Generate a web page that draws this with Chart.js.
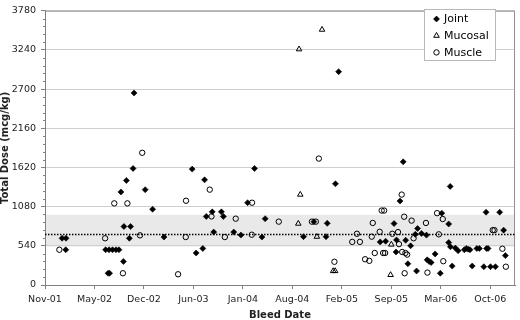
<!DOCTYPE html>
<html>
<head>
<meta charset="utf-8">
<script src="https://cdn.jsdelivr.net/npm/chart.js@4.4.1/dist/chart.umd.min.js"></script>
<style>
  html, body { margin: 0; padding: 0; background: #fff; }
  #wrap { width: 520px; height: 320px; }
</style>
</head>
<body>
<div id="wrap"><canvas id="chart" width="520" height="320"></canvas></div>
<script>
// bleed dates are Excel day serials, doses in mcg/kg
const jointDates = [37269, 37285, 37284, 37445, 37459, 37473, 37487, 37499, 37455, 37461, 37517, 37519, 37546, 37541, 37507, 37529, 37556, 37560, 37605, 37635, 37681, 37795, 37811, 37838, 37845, 37852, 37876, 37882, 37913, 37921, 37963, 37992, 38019, 38047, 38077, 38090, 38245, 38287, 38341, 38336, 38374, 38387, 38555, 38577, 38611, 38621, 38619, 38635, 38648, 38658, 38667, 38678, 38697, 38702, 38706, 38722, 38742, 38745, 38753, 38761, 38777, 38798, 38804, 38832, 38832, 38838, 38839, 38846, 38859, 38870, 38895, 38903, 38911, 38918, 38927, 38946, 38956, 38974, 38983, 38985, 38991, 39001, 39021, 39038, 39054, 39061];
const jointDoses = [644, 644, 486, 486, 486, 486, 486, 486, 162, 162, 324, 806, 806, 644, 1282, 1440, 1606, 2646, 1314, 1044, 661, 1597, 441, 504, 1449, 945, 1008, 729, 1008, 945, 729, 688, 1134, 1606, 661, 914, 666, 873, 850, 666, 1395, 2939, 594, 603, 846, 621, 455, 1157, 1697, 617, 293, 540, 698, 193, 779, 711, 688, 347, 324, 310, 428, 162, 990, 841, 585, 1359, 526, 261, 509, 472, 486, 504, 493, 486, 261, 504, 504, 252, 1003, 504, 504, 252, 252, 1003, 756, 405];

const mucosalDates = [38224, 38232, 38227, 38320, 38299, 38365, 38373, 38597, 38600];
const mucosalDoses = [846, 1246, 3249, 3519, 666, 193, 193, 139, 558];

const muscleDates = [37258, 37443, 37480, 37533, 37515, 37593, 37584, 37738, 37770, 37769, 37866, 37873, 37927, 37971, 38037, 38036, 38145, 38279, 38295, 38307, 38370, 38442, 38461, 38473, 38494, 38511, 38521, 38525, 38533, 38553, 38561, 38571, 38567, 38575, 38604, 38627, 38631, 38642, 38644, 38652, 38654, 38657, 38664, 38682, 38690, 38740, 38746, 38785, 38792, 38808, 38810, 39010, 39017, 39049, 39063];
const muscleDoses = [486, 644, 1125, 1125, 162, 1822, 684, 148, 1161, 661, 1314, 945, 661, 914, 1134, 693, 873, 873, 873, 1742, 320, 594, 706, 594, 355, 333, 666, 855, 441, 733, 1026, 1026, 441, 441, 706, 729, 563, 1246, 455, 941, 162, 441, 419, 887, 644, 855, 171, 990, 698, 909, 328, 756, 756, 500, 252];

const seriesNames = ['Joint', 'Mucosal', 'Muscle'];

// axis ranges
const dateMin = 37200, dateMax = 39100, dateStep = 200;
const doseMax = 3780, doseStep = 540, doseMinor = 108;

// reference band and mean line
const bandLow = 530, bandHigh = 968, meanDose = 700;

const MONTHS = ['Jan', 'Feb', 'Mar', 'Apr', 'May', 'Jun', 'Jul', 'Aug', 'Sep', 'Oct', 'Nov', 'Dec'];
function dateLabel(serial) {
  const d = new Date(Date.UTC(1899, 11, 30) + serial * 864e5);
  return MONTHS[d.getUTCMonth()] + '-' + String(d.getUTCFullYear()).slice(2);
}

const toPoints = (xs, ys) => xs.map((x, i) => ({ x, y: ys[i] }));

const FONT = 'DejaVu Sans';

const bandPlugin = {
  id: 'band',
  beforeDraw(chart) {
    const { ctx, chartArea: a, scales: { y } } = chart;
    ctx.save();
    ctx.fillStyle = '#e9e9e9';
    const top = y.getPixelForValue(bandHigh);
    const bot = y.getPixelForValue(bandLow);
    ctx.fillRect(a.left, top, a.right - a.left, bot - top);
    ctx.restore();
  },
  beforeDatasetsDraw(chart) {
    const { ctx, chartArea: a, scales: { y } } = chart;
    ctx.save();
    // plot frame top / right
    ctx.strokeStyle = '#909090';
    ctx.lineWidth = 1;
    ctx.beginPath();
    ctx.moveTo(a.left, a.top + 0.5);
    ctx.lineTo(a.right - 0.5, a.top + 0.5);
    ctx.lineTo(a.right - 0.5, a.bottom);
    ctx.stroke();
    // mean dose dotted line
    const my = Math.round(y.getPixelForValue(meanDose)) + 0.5;
    ctx.strokeStyle = '#000';
    ctx.lineWidth = 1.3;
    ctx.setLineDash([1.5, 1.5]);
    ctx.beginPath();
    ctx.moveTo(a.left, my);
    ctx.lineTo(a.right, my);
    ctx.stroke();
    ctx.setLineDash([]);
    // minor ticks on y axis
    ctx.strokeStyle = '#808080';
    ctx.lineWidth = 1;
    ctx.beginPath();
    for (let v = doseMinor; v < doseMax; v += doseMinor) {
      if (v % doseStep === 0) continue;
      const py = Math.round(y.getPixelForValue(v)) + 0.5;
      ctx.moveTo(a.left - 2, py);
      ctx.lineTo(a.left + 1, py);
    }
    ctx.stroke();
    ctx.restore();
  }
};

const legendPlugin = {
  id: 'boxLegend',
  afterDatasetsDraw(chart) {
    const { ctx } = chart;
    const bx = 424.5, by = 9.5, bw = 71, bh = 51;
    ctx.save();
    ctx.fillStyle = '#fff';
    ctx.strokeStyle = '#b8b8b8';
    ctx.lineWidth = 1;
    ctx.fillRect(bx, by, bw, bh);
    ctx.strokeRect(bx, by, bw, bh);
    ctx.font = '11px "' + FONT + '"';
    ctx.textBaseline = 'middle';
    chart.data.datasets.forEach((ds, i) => {
      const cy = 19 + i * 16.7;
      ctx.fillStyle = ds.backgroundColor;
      ctx.strokeStyle = ds.borderColor;
      ctx.lineWidth = ds.borderWidth;
      Chart.helpers.drawPoint(ctx, {
        pointStyle: ds.pointStyle, radius: ds.pointRadius, borderWidth: ds.borderWidth, rotation: 0
      }, 436.5, cy);
      ctx.fillStyle = '#000';
      ctx.fillText(ds.label, 444, cy + 0.5);
    });
    ctx.restore();
  }
};

new Chart(document.getElementById('chart'), {
  type: 'scatter',
  data: {
    datasets: [
      {
        label: seriesNames[0],
        data: toPoints(jointDates, jointDoses),
        pointStyle: 'rectRot',
        pointRadius: 3,
        backgroundColor: '#000',
        borderColor: '#000',
        borderWidth: 0.6,
      },
      {
        label: seriesNames[1],
        data: toPoints(mucosalDates, mucosalDoses),
        pointStyle: 'triangle',
        pointRadius: 3.2,
        backgroundColor: 'rgba(255,255,255,0)',
        borderColor: '#000',
        borderWidth: 1,
      },
      {
        label: seriesNames[2],
        data: toPoints(muscleDates, muscleDoses),
        pointStyle: 'circle',
        pointRadius: 2.7,
        backgroundColor: 'rgba(255,255,255,0)',
        borderColor: '#000',
        borderWidth: 1,
      },
    ],
  },
  options: {
    responsive: false,
    animation: false,
    layout: { padding: { left: 0, top: 5, right: 2, bottom: 0 } },
    plugins: {
      legend: { display: false },
      tooltip: { enabled: false },
    },
    scales: {
      x: {
        type: 'linear',
        min: dateMin,
        max: dateMax,
        afterFit: (s) => { s.height = 35; },
        afterBuildTicks: (s) => {
          const ticks = [];
          for (let v = dateMin; v <= dateMax; v += dateStep) ticks.push({ value: v });
          s.ticks = ticks;
        },
        ticks: {
          stepSize: dateStep,
          maxRotation: 0,
          autoSkip: false,
          padding: 5,
          color: '#222',
          font: { family: FONT, size: 9.5 },
          callback: (v) => dateLabel(v),
        },
        grid: { drawOnChartArea: false, tickLength: 4, tickColor: '#808080' },
        border: { color: '#808080' },
        title: {
          display: true,
          text: 'Bleed Date',
          color: '#222',
          font: { family: FONT, size: 10, weight: 'bold', lineHeight: 1 },
          padding: 0,
        },
      },
      y: {
        min: 0,
        max: doseMax,
        afterFit: (s) => { s.width = 45; },
        ticks: {
          stepSize: doseStep,
          padding: 5,
          color: '#222',
          font: { family: FONT, size: 9.5 },
          callback: (v) => String(v),
        },
        grid: { color: '#cfcfcf', tickLength: 4, tickColor: '#808080' },
        border: { color: '#808080' },
        title: {
          display: true,
          text: 'Total Dose (mcg/kg)',
          color: '#222',
          font: { family: FONT, size: 10, weight: 'bold', lineHeight: 1 },
          padding: 0,
        },
      },
    },
  },
  plugins: [bandPlugin, legendPlugin],
});
</script>
</body>
</html>
